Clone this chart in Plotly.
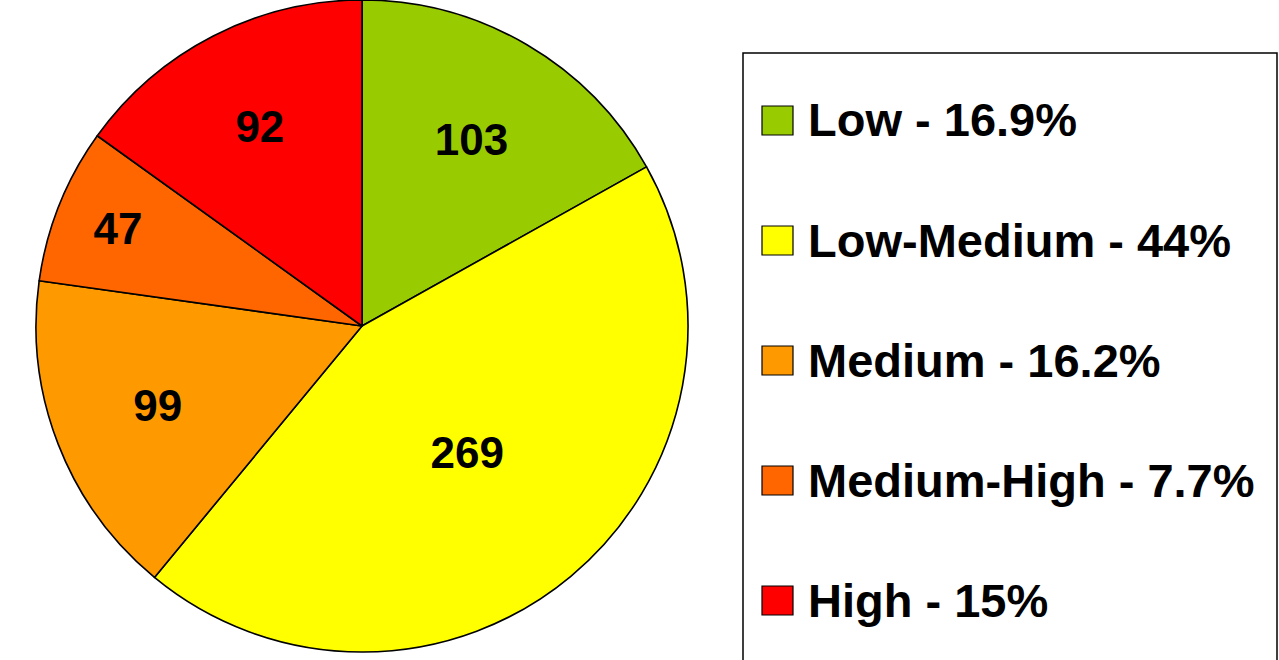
import plotly.graph_objects as go

categories = ["Low", "Low-Medium", "Medium", "Medium-High", "High"]
counts = [103, 269, 99, 47, 92]
legend_labels = ["Low - 16.9%", "Low-Medium - 44%", "Medium - 16.2%", "Medium-High - 7.7%", "High - 15%"]
colors = ["#99CC00", "#FFFF00", "#FF9900", "#FF6600", "#FF0000"]

W, H = 1279, 660
FONT = "Liberation Sans, Arial, sans-serif"

fig = go.Figure()
fig.add_trace(go.Pie(
    labels=categories,
    values=counts,
    sort=False,
    direction="clockwise",
    rotation=0,
    marker=dict(colors=colors, line=dict(color="black", width=1.6)),
    texttemplate="<b>%{value}</b>",
    textposition="inside",
    insidetextorientation="horizontal",
    textfont=dict(family=FONT, size=44, color="black"),
    domain=dict(x=[(362 - 326) / W, (362 + 326) / W], y=[(H - 652) / H, (H - 0) / H]),
    showlegend=False,
    hoverinfo="label+value+percent",
))

shapes = [dict(type="rect", xref="paper", yref="paper",
               x0=743 / W, x1=1277 / W, y0=-10 / H, y1=(H - 53) / H,
               line=dict(color="black", width=1.5), fillcolor="rgba(0,0,0,0)")]
annotations = []
row_y = [120, 240, 360, 480, 600]
for lab, col, yc in zip(legend_labels, colors, row_y):
    shapes.append(dict(type="rect", xref="paper", yref="paper",
                       x0=762 / W, x1=793 / W,
                       y0=(H - yc - 15) / H, y1=(H - yc + 14) / H,
                       line=dict(color="black", width=1.2), fillcolor=col))
    annotations.append(dict(xref="paper", yref="paper", x=806 / W, y=(H - yc) / H,
                            xanchor="left", yanchor="middle", showarrow=False,
                            text="<b>" + lab + "</b>",
                            font=dict(family=FONT, size=47, color="black")))

fig.update_layout(
    width=W, height=H,
    margin=dict(l=0, r=0, t=0, b=0),
    paper_bgcolor="white", plot_bgcolor="white",
    shapes=shapes, annotations=annotations,
)
fig.write_html("out.html")
